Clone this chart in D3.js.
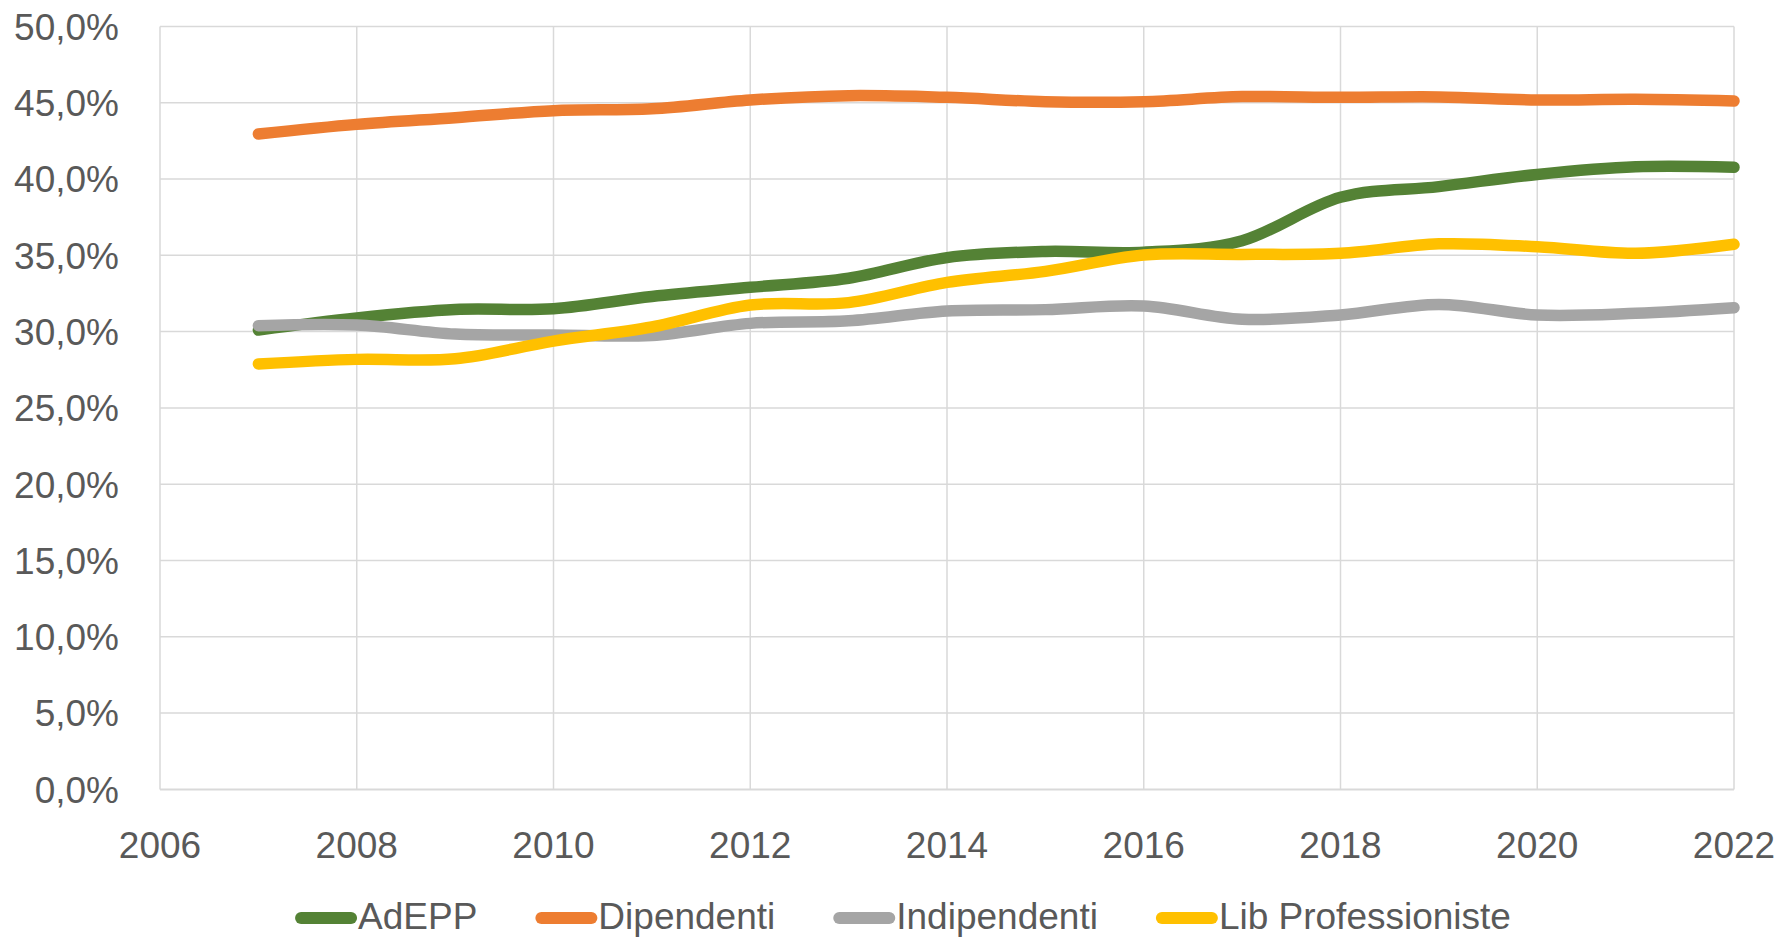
<!DOCTYPE html>
<html>
<head>
<meta charset="utf-8">
<script src="https://cdn.jsdelivr.net/npm/d3@7"></script>
<style>
  body { margin: 0; background: #fff; }
  text { font-family: "Liberation Sans", Arial, sans-serif; fill: #595959; }
</style>
</head>
<body>
<svg id="chart" width="1780" height="937"></svg>
<script>
// data (percent)
var years = [2007, 2008, 2009, 2010, 2011, 2012, 2013, 2014, 2015, 2016, 2017, 2018, 2019, 2020, 2021, 2022];
var adepp =        [30.1, 30.9, 31.45, 31.5, 32.3, 32.9, 33.5, 34.85, 35.25, 35.2, 35.95, 38.8, 39.5, 40.3, 40.8, 40.77];
var dipendenti =   [42.95, 43.58, 44.02, 44.48, 44.6, 45.18, 45.46, 45.35, 45.07, 45.07, 45.4, 45.35, 45.38, 45.18, 45.22, 45.11];
var indipendenti = [30.39, 30.43, 29.84, 29.78, 29.75, 30.54, 30.71, 31.35, 31.44, 31.68, 30.81, 31.09, 31.78, 31.09, 31.2, 31.57];
var libProf =      [27.88, 28.18, 28.22, 29.38, 30.3, 31.74, 31.9, 33.23, 33.95, 35.02, 35.06, 35.13, 35.75, 35.56, 35.13, 35.72];

var seriesNames = ["AdEPP", "Dipendenti", "Indipendenti", "Lib Professioniste"];
var seriesValues = [adepp, dipendenti, indipendenti, libProf];
var colors = ["#548235", "#ED7D31", "#A5A5A5", "#FFC000"];

var xTicks = [2006, 2008, 2010, 2012, 2014, 2016, 2018, 2020, 2022];
var yTicks = [0, 5, 10, 15, 20, 25, 30, 35, 40, 45, 50];

var plotLeft = 160, plotRight = 1734, plotTop = 26.4, plotBottom = 789.4;

var x = d3.scaleLinear().domain([2006, 2022]).range([plotLeft, plotRight]);
var y = d3.scaleLinear().domain([0, 50]).range([plotBottom, plotTop]);

var svg = d3.select('#chart');

/* grid */
var grid = svg.append('g').attr('class', 'grid');
grid.selectAll('.hgrid')
  .data(yTicks).enter()
  .append('line')
  .attr('x1', plotLeft).attr('x2', plotRight)
  .attr('y1', d => y(d)).attr('y2', d => y(d))
  .style('stroke', '#D9D9D9')
  .style('stroke-width', d => d === 0 ? 2 : 1.5);
grid.selectAll('.vgrid')
  .data(xTicks).enter()
  .append('line')
  .attr('x1', d => x(d)).attr('x2', d => x(d))
  .attr('y1', plotTop).attr('y2', plotBottom)
  .style('stroke', '#D9D9D9')
  .style('stroke-width', 1.5);

/* axes labels */
var fmt = d => d3.format('.1f')(d).replace('.', ',') + '%';
svg.append('g')
  .attr('class', 'y axis')
  .selectAll('text')
  .data(yTicks).enter()
  .append('text')
  .attr('x', 119)
  .attr('y', d => y(d))
  .attr('dy', '0.36em')
  .attr('text-anchor', 'end')
  .style('font-size', '37px')
  .text(fmt);

svg.append('g')
  .attr('class', 'x axis')
  .selectAll('text')
  .data(xTicks).enter()
  .append('text')
  .attr('x', d => x(d))
  .attr('y', 858)
  .attr('text-anchor', 'middle')
  .style('font-size', '37px')
  .text(d => d);

/* lines */
var line = d3.line()
  .x((d, i) => x(years[i]))
  .y(d => y(d))
  .curve(d3.curveCardinal.tension(0));

svg.append('g').attr('class', 'lines')
  .selectAll('path')
  .data(seriesValues).enter()
  .append('path')
  .attr('d', d => line(d))
  .style('fill', 'none')
  .style('stroke', (d, i) => colors[i])
  .style('stroke-width', 11.5)
  .style('stroke-linecap', 'round')
  .style('stroke-linejoin', 'round');

/* legend */
var legend = svg.append('g').attr('class', 'legend');
var items = legend.selectAll('g')
  .data(seriesNames).enter()
  .append('g');
items.append('line')
  .attr('x1', 6).attr('x2', 56)
  .attr('y1', 918).attr('y2', 918)
  .style('stroke', (d, i) => colors[i])
  .style('stroke-width', 12)
  .style('stroke-linecap', 'round');
items.append('text')
  .attr('x', 63)
  .attr('y', 929)
  .style('font-size', '37px')
  .text(d => d);

var widths = [];
items.each(function() { widths.push(63 + d3.select(this).select('text').node().getComputedTextLength()); });
var gap = 58;
var total = d3.sum(widths) + gap * (widths.length - 1);
var pos = 903 - total / 2;
items.attr('transform', function(d, i) {
  var t = 'translate(' + pos + ',0)';
  pos += widths[i] + gap;
  return t;
});
</script>
</body>
</html>
